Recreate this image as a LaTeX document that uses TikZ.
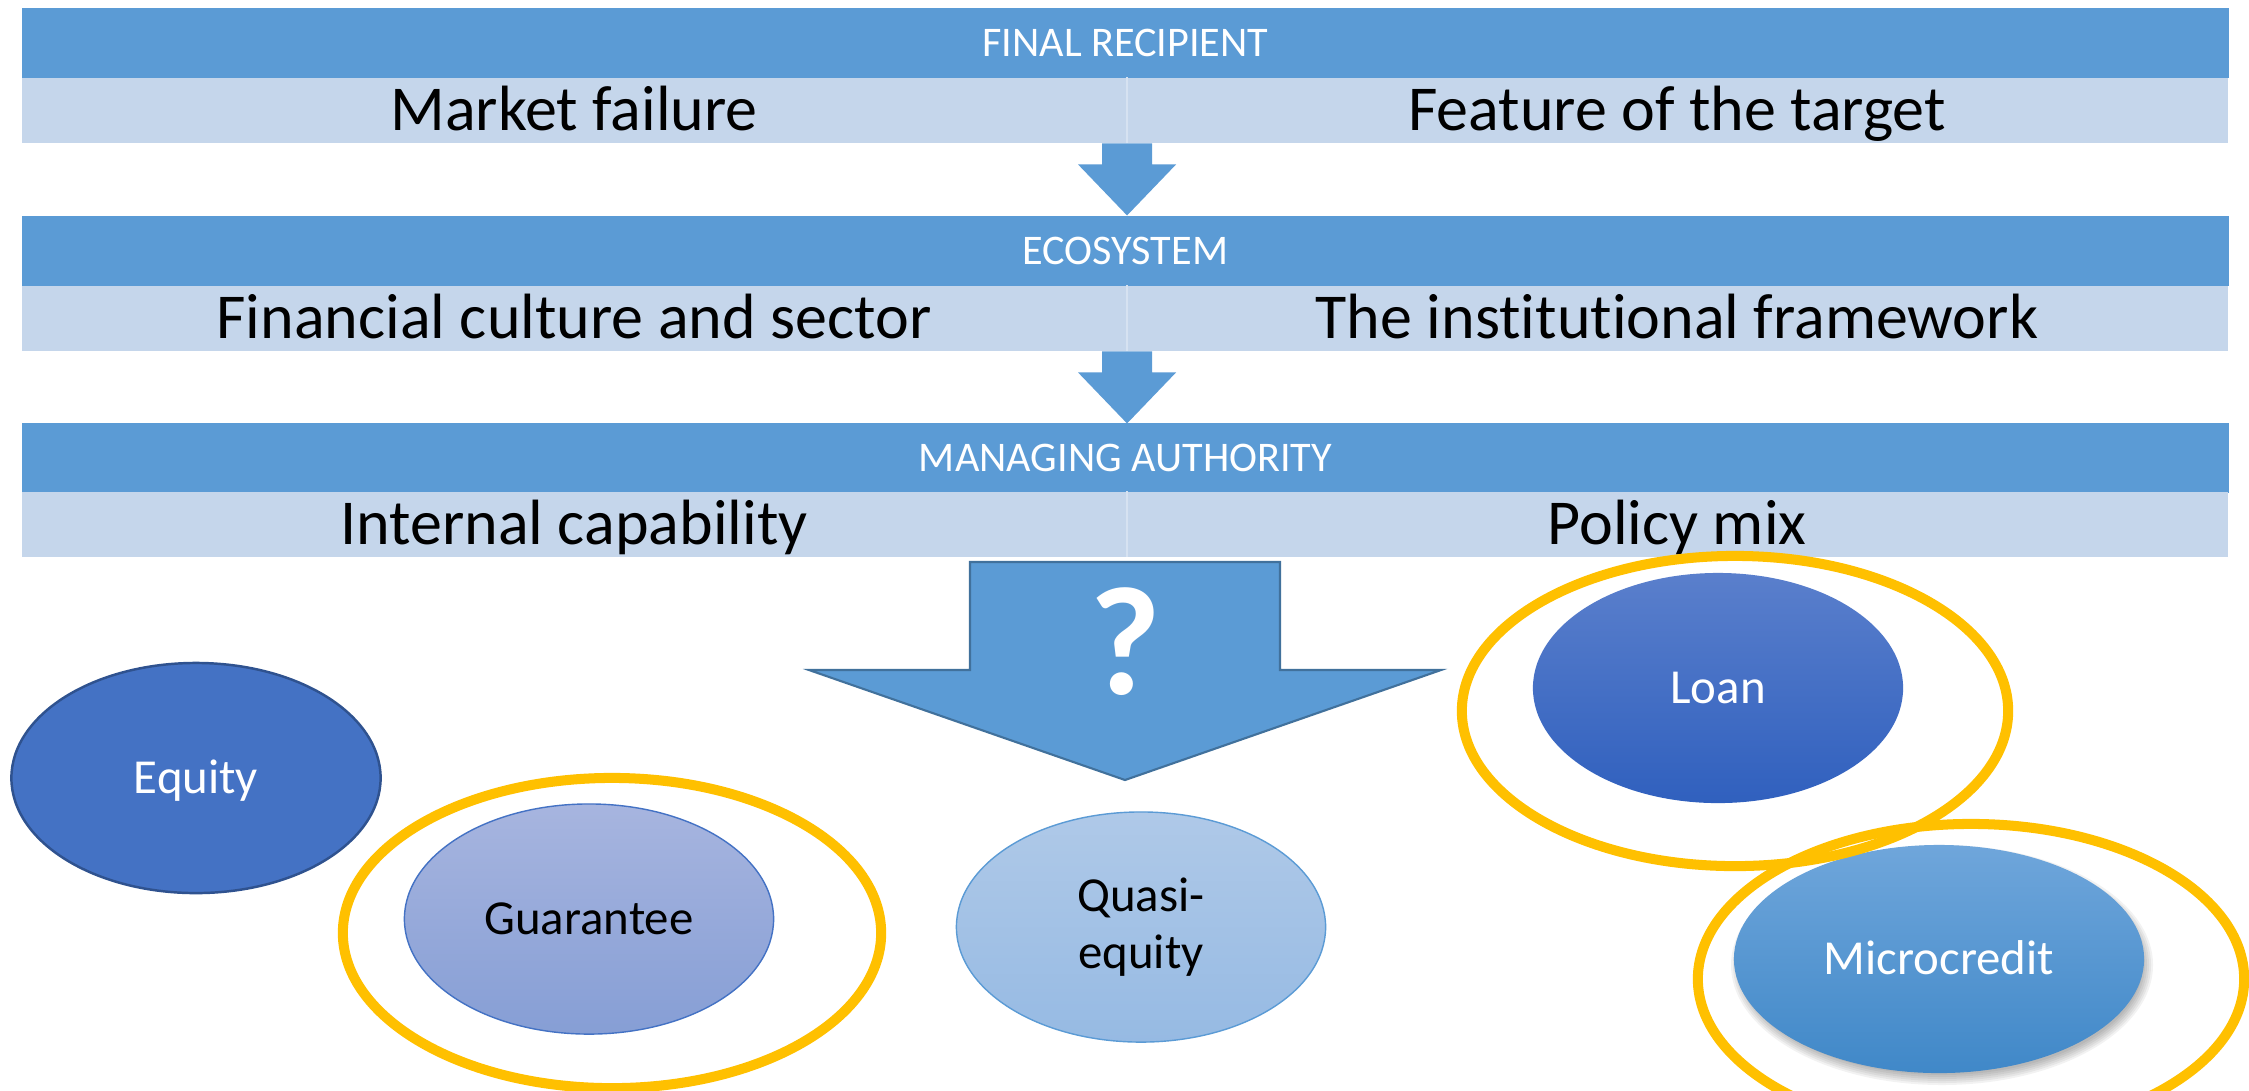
\documentclass[tikz,border=0pt]{standalone}
\usepackage{fontspec}
\setmainfont{Carlito}[Ligatures=NoCommon]
\usetikzlibrary{shapes.geometric}
\definecolor{accent}{HTML}{5B9BD5}
\definecolor{accentdark}{HTML}{41719C}
\definecolor{lightbarc}{RGB}{197,214,235}
\definecolor{dividerc}{RGB}{214,226,241}
\definecolor{equityc}{HTML}{4472C4}
\definecolor{equityb}{HTML}{2F528F}
\definecolor{guarTop}{RGB}{167,181,223}
\definecolor{guarBot}{RGB}{134,158,213}
\definecolor{quasiTop}{RGB}{175,201,232}
\definecolor{quasiBot}{RGB}{150,186,227}
\definecolor{loanTop}{RGB}{90,127,204}
\definecolor{loanBot}{RGB}{48,96,190}
\definecolor{microTop}{RGB}{111,166,219}
\definecolor{microBot}{RGB}{64,136,200}
\definecolor{gold}{HTML}{FFC000}
\begin{document}
\begin{tikzpicture}[x=0.01cm,y=-0.01cm,
  darkbar/.style={fill=accent, text=white, minimum width=22.06cm, minimum height=0.70cm,
    inner sep=0pt, font=\fontsize{12pt}{14pt}\selectfont, text height=0.27cm, text depth=0pt,
    anchor=north west},
  lightbar/.style={fill=lightbarc, minimum height=0.65cm, inner sep=0pt,
    font=\fontsize{18.2pt}{21pt}\selectfont, text height=0.41cm, text depth=0pt, anchor=north west},
  divider/.style={draw=dividerc, line width=0.6pt},
  smallarrow/.style={fill=accent},
  bigarrow/.style={fill=accent, draw=accentdark, line width=0.6pt, line join=miter},
  instr/.style={ellipse, inner sep=0pt, minimum width=3.69cm, minimum height=2.30cm,
    font=\fontsize{13.9pt}{16.4pt}\selectfont},
  onecap/.style={text height=0.31cm, text depth=0pt},
  ring/.style={ellipse, draw=gold, line width=2.85pt, inner sep=0pt, minimum height=3.10cm},
  softshadow/.style={fill=black, opacity=0.05}
]
\clip (0,0) rectangle (2249,1090);
\fill[white] (0,0) rectangle (2249,1090);

% --- Level 1
\node[darkbar] (h1) at (21,7) {FINAL RECIPIENT};
\node[lightbar, minimum width=11.04cm] (l1a) at (21,77) {Market failure};
\node[lightbar, minimum width=11.02cm] (l1b) at (1125,77) {Feature of the target};
\draw[divider] (l1a.north east) -- (l1a.south east);

% --- Level 2
\node[darkbar] (h2) at (21,215) {ECOSYSTEM};
\node[lightbar, minimum width=11.04cm] (l2a) at (21,285) {Financial culture and sector};
\node[lightbar, minimum width=11.02cm] (l2b) at (1125,285) {The institutional framework};
\draw[divider] (l2a.north east) -- (l2a.south east);

% --- Level 3
\node[darkbar] (h3) at (21,422) {MANAGING AUTHORITY};
\node[lightbar, minimum width=11.04cm] (l3a) at (21,491) {Internal capability};
\node[lightbar, minimum width=11.02cm] (l3b) at (1125,491) {Policy mix};
\draw[divider] (l3a.north east) -- (l3a.south east);

% --- small arrows
\fill[smallarrow] (l1a.south east) ++(-25,0) -- ++(0,21) -- ++(-24,0) -- ++(49,51)
  -- ++(49,-51) -- ++(-24,0) -- ++(0,-21) -- cycle;
\fill[smallarrow] (l2a.south east) ++(-25,0) -- ++(0,21) -- ++(-24,0) -- ++(49,51)
  -- ++(49,-51) -- ++(-24,0) -- ++(0,-21) -- cycle;

% --- big arrow
\coordinate (bigtop) at (1125,562);
\draw[bigarrow] (bigtop) ++(-155,0) -- ++(310,0) -- ++(0,108) -- ++(161,0) -- ++(-316,110)
  -- ++(-316,-110) -- ++(161,0) -- cycle;
\node[text=white, font=\fontsize{44pt}{44pt}\selectfont\bfseries, inner sep=0pt,
  text height=0.99cm, text depth=0pt] (q) at (1125,645) {?};

% --- instruments
\node[instr, fill=equityc, draw=equityb, line width=0.7pt, text=white, onecap] (equity) at (196,778) {Equity};
\node[instr, top color=guarTop, bottom color=guarBot, draw=equityc, line width=0.4pt, onecap] (guar) at (589,919) {Guarantee};
\node[instr, top color=quasiTop, bottom color=quasiBot, draw=accent, line width=0.4pt, align=center] (quasi) at (1141,927) {Quasi-\\equity};
\node[instr, top color=loanTop, bottom color=loanBot, text=white, onecap, minimum width=3.70cm] (loan) at (1718,688) {Loan};

% soft shadow of the microcredit ellipse
\foreach \d in {0,2,4,6,8,10}{
  \fill[softshadow] (1942,965) ellipse ({205+\d-4} and {114+\d-4});
}
\node[instr, top color=microTop, bottom color=microBot, text=white, onecap, minimum width=4.10cm, minimum height=2.28cm] (micro) at (1939,959) {Microcredit};

% --- highlight rings
\node[ring, minimum width=5.38cm] (ringG) at (612,933) {};
\node[ring, minimum width=5.46cm] (ringL) at (1735,711) {};
\node[ring, minimum width=5.46cm] (ringM) at (1971,979) {};
\end{tikzpicture}
\end{document}
